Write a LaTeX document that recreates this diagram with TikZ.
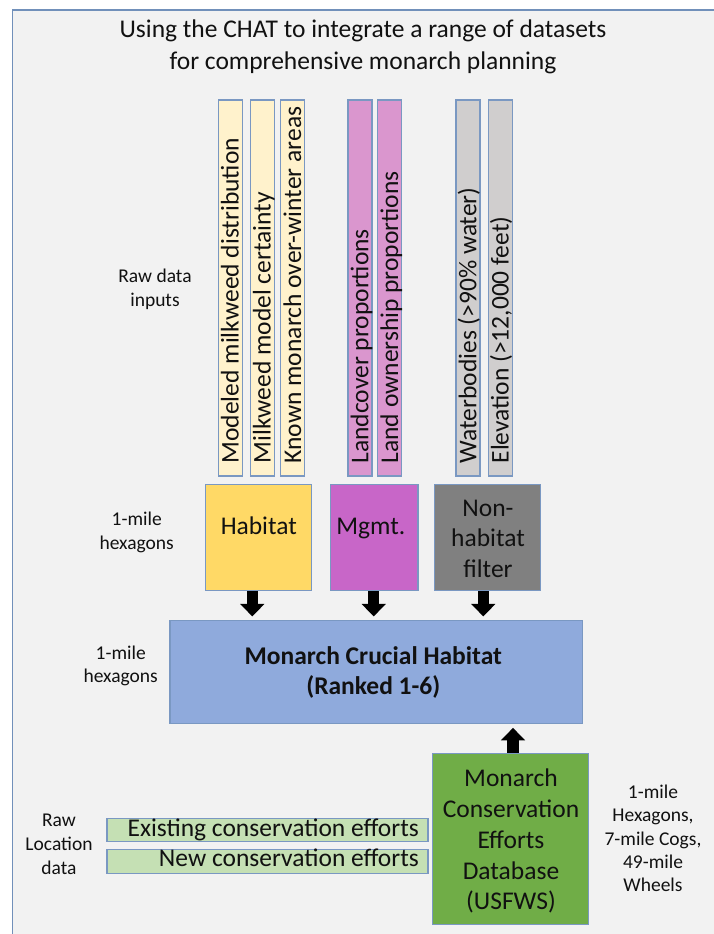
\documentclass[tikz,border=0pt]{standalone}
\usepackage{fontspec}
\setmainfont{Carlito}
\usetikzlibrary{arrows.meta,calc}
\definecolor{bgc}{HTML}{F2F2F2}
\definecolor{framec}{HTML}{7190BA}
\definecolor{edgec}{HTML}{7A98C2}
\definecolor{txt}{HTML}{111111}
\definecolor{yell}{HTML}{FFF2CC}
\definecolor{pinkl}{HTML}{DA96CE}
\definecolor{grayl}{HTML}{D0CECE}
\definecolor{habc}{HTML}{FFD966}
\definecolor{mgc}{HTML}{C866C8}
\definecolor{nhc}{HTML}{808080}
\definecolor{mainc}{HTML}{8FAADC}
\definecolor{greenl}{HTML}{C5E0B4}
\definecolor{greend}{HTML}{70AD47}
\begin{document}
\begin{tikzpicture}[x=1pt,y=-1pt,
  box/.style={rectangle, draw=edgec, line width=1.1pt, inner sep=0pt},
  big/.style={font=\fontsize{25.5}{31}\selectfont, inner sep=0pt, text=txt, anchor=base},
  small/.style={font=\fontsize{19.5}{23.5}\selectfont, inner sep=0pt, text=txt, anchor=base},
  bartxt/.style={big, rotate=90, anchor=base west},
  barbox/.style={box, minimum width=24pt, minimum height=376pt},
  blk/.style={draw=black, line width=11.5pt, -{Triangle[width=23.5pt,length=12.5pt]}}
]
\useasboundingbox (0,0) rectangle (714,934);
\fill[white] (0,0) rectangle (714,934);
\begin{scope}
\clip (0,0) rectangle (714,934);
\path[fill=bgc, draw=framec, line width=1.5pt] (12.5,10) rectangle (760,980);
\end{scope}

% title
\node[big] (ti1) at (363,38) {Using the CHAT to integrate a range of datasets};
\node[big] (ti2) at (363,70) {for comprehensive monarch planning};

% raw data bars
\node[barbox, fill=yell]  (b1) at (230.3,288) {};
\node[barbox, fill=yell]  (b2) at (262.2,288) {};
\node[barbox, fill=yell]  (b3) at (292.8,288) {};
\node[barbox, fill=pinkl] (b4) at (360.0,288) {};
\node[barbox, fill=pinkl] (b5) at (389.7,288) {};
\node[barbox, fill=grayl] (b6) at (468.0,288) {};
\node[barbox, fill=grayl] (b7) at (500.3,288) {};
\node[bartxt] (bt1) at ($(b1.south)+(8.3,-13)$) {Modeled milkweed distribution};
\node[bartxt] (bt2) at ($(b2.south)+(8.3,-13)$) {Milkweed model certainty};
\node[bartxt] (bt3) at ($(b3.south)+(8.3,-13)$) {Known monarch over-winter areas};
\node[bartxt] (bt4) at ($(b4.south)+(8.3,-13)$) {Landcover proportions};
\node[bartxt] (bt5) at ($(b5.south)+(8.3,-13)$) {Land ownership proportions};
\node[bartxt] (bt6) at ($(b6.south)+(8.3,-13)$) {Waterbodies (>90\% water)};
\node[bartxt] (bt7) at ($(b7.south)+(8.3,-13)$) {Elevation (>12,000 feet)};

% side labels
\node[small] (l1a) at (155,282.7) {Raw data};
\node[small] (l1b) at (155,306.7) {inputs};
\node[small] (l2a) at (136.7,525) {1-mile};
\node[small] (l2b) at (136.7,549) {hexagons};
\node[small] (l3a) at (120.7,659.3) {1-mile};
\node[small] (l3b) at (120.7,682.7) {hexagons};
\node[small] (l4a) at (59,826.7) {Raw};
\node[small] (l4b) at (59,850.5) {Location};
\node[small] (l4c) at (59,874) {data};
\node[small] (r1) at (653,798) {1-mile};
\node[small] (r2) at (653,821.5) {Hexagons,};
\node[small] (r3) at (653,845) {7-mile Cogs,};
\node[small] (r4) at (653,868.3) {49-mile};
\node[small] (r5) at (653,891.7) {Wheels};

% intermediate boxes
\node[box, fill=habc, minimum width=106.4pt, minimum height=106.4pt] (hab) at (258.5,537.7) {};
\node[box, fill=mgc,  minimum width=87.3pt,  minimum height=106.4pt] (mg)  at (374.3,537.7) {};
\node[box, fill=nhc,  minimum width=105.5pt, minimum height=106.4pt] (nh)  at (487.3,537.7) {};
\node[big] (habt) at (258.8,534.5) {Habitat};
\node[big] (mgt)  at (370.8,534.5) {Mgmt.};
\node[big] (nht1) at (488,516) {Non-};
\node[big] (nht2) at (488,546.5) {habitat};
\node[big] (nht3) at (488,577) {filter};

% main box
\node[box, fill=mainc, minimum width=412.7pt, minimum height=102.6pt] (main) at (376.3,672) {};
\node[big, font=\fontsize{25.5}{31}\selectfont\bfseries] (mt1) at (373.3,664.3) {Monarch Crucial Habitat};
\node[big, font=\fontsize{25.5}{31}\selectfont\bfseries] (mt2) at (373.3,694.5) {(Ranked 1-6)};

% conservation database
\node[box, fill=greend, minimum width=155.5pt, minimum height=170.7pt] (cons) at (510.5,838.7) {};
\node[big] (ct1) at (511,786.7) {Monarch};
\node[big] (ct2) at (511,817.3) {Conservation};
\node[big] (ct3) at (511,848.6) {Efforts};
\node[big] (ct4) at (511,879.3) {Database};
\node[big] (ct5) at (511,909.5) {(USFWS)};

% conservation efforts inputs
\node[box, fill=greenl, minimum width=321pt, minimum height=23.4pt] (ex) at (267.5,830) {};
\node[box, fill=greenl, minimum width=321pt, minimum height=24pt]   (nw) at (267.5,861.3) {};
\node[big, anchor=base east] (ext) at (419,836) {Existing conservation efforts};
\node[big, anchor=base east] (nwt) at (419,866.7) {New conservation efforts};

% block arrows
\draw[blk, shorten >=3.7pt] ($(hab.south)+(-6.2,0)$) -- ($(hab.south |- main.north)+(-6.2,0)$);
\draw[blk, shorten >=3.7pt] ($(mg.south)+(-0.6,0)$) -- ($(mg.south |- main.north)+(-0.6,0)$);
\draw[blk, shorten >=3.7pt] ($(nh.south)+(-4,0)$) -- ($(nh.south |- main.north)+(-4,0)$);
\draw[blk, shorten >=4pt] ($(cons.north)+(2.5,0)$) -- ($(cons.north |- main.south)+(2.5,0)$);
\end{tikzpicture}
\end{document}
